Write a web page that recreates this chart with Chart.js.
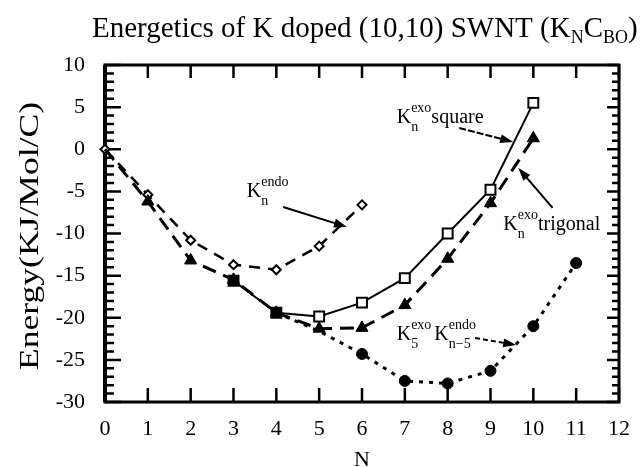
<!DOCTYPE html>
<html>
<head>
<title>Energetics of K doped (10,10) SWNT</title>
<script src="https://cdn.jsdelivr.net/npm/chart.js@4.4.0/dist/chart.umd.min.js"></script>
<style>
    body { margin: 0; background: #fff; }
    #wrap { width: 644px; height: 467px; }
</style>
</head>
<body>
<div id="wrap"><canvas id="energyChart" width="644" height="467"></canvas></div>
<script>
    // data (N = number of K atoms, energy in KJ/Mol/C)
    const nSquare = [3, 4, 5, 6, 7, 8, 9, 10];
    const eSquare = [-15.6, -19.4, -19.85, -18.2, -15.3, -10.0, -4.8, 5.5];

    const nTrigonal = [0, 1, 2, 3, 4, 5, 6, 7, 8, 9, 10];
    const eTrigonal = [0, -6.2, -13.2, -15.5, -19.4, -21.3, -21.2, -18.5, -13.0, -6.4, 1.3];

    const nEndo = [0, 1, 2, 3, 4, 5, 6];
    const eEndo = [0, -5.4, -10.8, -13.7, -14.3, -11.5, -6.6];

    const nMixed = [4, 5, 6, 7, 8, 9, 10, 11];
    const eMixed = [-19.4, -21.6, -24.3, -27.5, -27.8, -26.3, -21.0, -13.5];

    const xTickValues = [0, 1, 2, 3, 4, 5, 6, 7, 8, 9, 10, 11, 12];
    const yTickValues = [10, 5, 0, -5, -10, -15, -20, -25, -30];

    const SERIF = '"Liberation Serif", "DejaVu Serif", serif';

    function toPoints(xs, ys) {
        return xs.map((x, i) => ({ x: x, y: ys[i] }));
    }

    // K with a subscript and superscript stacked after it, returns the x where it ends
    function drawK(ctx, x, y, base, sub, sup, size) {
        ctx.font = size + 'px ' + SERIF;
        ctx.fillText(base, x, y);
        const w = ctx.measureText(base).width;
        const small = Math.round(size * 0.7);
        ctx.font = small + 'px ' + SERIF;
        const ws = sub ? ctx.measureText(sub).width : 0;
        const wp = sup ? ctx.measureText(sup).width : 0;
        if (sub) ctx.fillText(sub, x + w, y + size * 0.38);
        if (sup) ctx.fillText(sup, x + w, y - size * 0.55);
        return x + w + Math.max(ws, wp);
    }

    function arrow(ctx, x1, y1, x2, y2, dash) {
        const ang = Math.atan2(y2 - y1, x2 - x1);
        const len = 13, half = 4.5;
        ctx.save();
        ctx.lineWidth = 2;
        ctx.setLineDash(dash || []);
        ctx.beginPath();
        ctx.moveTo(x1, y1);
        ctx.lineTo(x2 - Math.cos(ang) * len * 0.8, y2 - Math.sin(ang) * len * 0.8);
        ctx.stroke();
        ctx.setLineDash([]);
        ctx.beginPath();
        ctx.moveTo(x2, y2);
        ctx.lineTo(x2 - Math.cos(ang) * len + Math.sin(ang) * half, y2 - Math.sin(ang) * len - Math.cos(ang) * half);
        ctx.lineTo(x2 - Math.cos(ang) * len - Math.sin(ang) * half, y2 - Math.sin(ang) * len + Math.cos(ang) * half);
        ctx.closePath();
        ctx.fill();
        ctx.restore();
    }

    const frameAndTicks = {
        id: 'frameAndTicks',
        beforeDatasetsDraw(chart) {
            const { ctx, chartArea: a, scales: { x, y } } = chart;
            ctx.save();
            ctx.strokeStyle = '#000';
            ctx.lineWidth = 2.5;
            ctx.beginPath();
            xTickValues.forEach(v => {
                const px = x.getPixelForValue(v);
                ctx.moveTo(px, a.bottom); ctx.lineTo(px, a.bottom - 14);
                ctx.moveTo(px, a.top); ctx.lineTo(px, a.top + 13);
            });
            for (let v = y.min; v <= y.max; v++) {
                const py = y.getPixelForValue(v);
                const major = v % 5 === 0;
                ctx.moveTo(a.left, py); ctx.lineTo(a.left + (major ? 16 : 9), py);
                ctx.moveTo(a.right, py); ctx.lineTo(a.right - (major ? 12 : 7), py);
            }
            ctx.stroke();
            ctx.lineWidth = 3;
            ctx.strokeRect(a.left, a.top, a.right - a.left, a.bottom - a.top);
            ctx.lineWidth = 4;
            ctx.beginPath();
            ctx.moveTo(a.left, a.top); ctx.lineTo(a.left, a.bottom);
            ctx.stroke();
            ctx.restore();
        }
    };

    const textLayer = {
        id: 'textLayer',
        afterDraw(chart) {
            const { ctx, chartArea: a, scales: { x, y } } = chart;
            ctx.save();
            ctx.fillStyle = '#000';
            ctx.strokeStyle = '#000';
            ctx.textBaseline = 'alphabetic';
            ctx.textAlign = 'left';

            // title with subscripts
            let tx = 92, ty = 37;
            ctx.font = '29px ' + SERIF;
            const head = 'Energetics of K doped (10,10) SWNT (K';
            ctx.fillText(head, tx, ty);
            tx += ctx.measureText(head).width;
            ctx.font = '18px ' + SERIF;
            ctx.fillText('N', tx, ty + 6);
            tx += ctx.measureText('N').width;
            ctx.font = '29px ' + SERIF;
            ctx.fillText('C', tx, ty);
            tx += ctx.measureText('C').width;
            ctx.font = '18px ' + SERIF;
            ctx.fillText('BO', tx, ty + 6);
            tx += ctx.measureText('BO').width;
            ctx.font = '29px ' + SERIF;
            ctx.fillText(')', tx, ty);

            // axis titles
            ctx.font = '22px ' + SERIF;
            ctx.textAlign = 'center';
            ctx.fillText('N', (a.left + a.right) / 2, 466);
            ctx.save();
            ctx.translate(31, 236);
            ctx.rotate(-Math.PI / 2);
            ctx.font = '27px ' + SERIF;
            ctx.textBaseline = 'middle';
            const yl = 'Energy(KJ/Mol/C)';
            const sc = 268 / ctx.measureText(yl).width;
            ctx.scale(sc, 1);
            ctx.fillText(yl, 0, 0);
            ctx.restore();

            ctx.textAlign = 'left';
            const px = v => x.getPixelForValue(v);
            const py = v => y.getPixelForValue(v);

            // K_n^endo
            drawK(ctx, px(3.31), py(-5.67), 'K', 'n', 'endo', 20);
            arrow(ctx, px(4.16), py(-6.85), px(5.65), py(-9.23));

            // K_n^exo square
            let e = drawK(ctx, px(6.81), py(3.1), 'K', 'n', 'exo', 20);
            ctx.font = '20px ' + SERIF;
            ctx.fillText('square', e, py(3.1));
            arrow(ctx, px(8.27), py(2.52), px(9.53), py(0.86), [7, 2]);

            // K_n^exo trigonal
            e = drawK(ctx, px(9.3), py(-9.58), 'K', 'n', 'exo', 20);
            ctx.font = '20px ' + SERIF;
            ctx.fillText('trigonal', e, py(-9.58));
            arrow(ctx, px(10.45), py(-6.97), px(9.65), py(-2.23));

            // K_5^exo K_{n-5}^endo
            e = drawK(ctx, px(6.81), py(-22.64), 'K', '5', 'exo', 20);
            e = drawK(ctx, e + 3, py(-22.64), 'K', 'n\u22125', 'endo', 20);
            arrow(ctx, px(8.64), py(-22.4), px(9.6), py(-23.24), [5, 3]);

            ctx.restore();
        }
    };

    const ctx = document.getElementById('energyChart').getContext('2d');
    const energyChart = new Chart(ctx, {
        type: 'line',
        data: {
            datasets: [
                {
                    label: 'Kn exo square',
                    data: toPoints(nSquare, eSquare),
                    borderColor: '#000',
                    borderWidth: 2,
                    pointStyle: 'rect',
                    pointRadius: 7,
                    pointBorderWidth: 2,
                    pointBorderColor: '#000',
                    pointBackgroundColor: nSquare.map(n => n <= 4 ? '#000' : '#fff'),
                    order: 1
                },
                {
                    label: 'Kn exo trigonal',
                    data: toPoints(nTrigonal, eTrigonal),
                    borderColor: '#000',
                    borderWidth: 3,
                    borderDash: [14, 8],
                    pointStyle: 'triangle',
                    pointRadius: nTrigonal.map(n => n === 0 ? 0 : 7),
                    pointBorderWidth: 1,
                    pointBorderColor: '#000',
                    pointBackgroundColor: '#000',
                    order: 2
                },
                {
                    label: 'Kn endo',
                    data: toPoints(nEndo, eEndo),
                    borderColor: '#000',
                    borderWidth: 2.5,
                    borderDash: [11, 8],
                    pointStyle: 'rectRot',
                    pointRadius: 4.5,
                    pointBorderWidth: 2,
                    pointBorderColor: '#000',
                    pointBackgroundColor: '#fff',
                    order: 3
                },
                {
                    label: 'K5 exo Kn-5 endo',
                    data: toPoints(nMixed, eMixed),
                    borderColor: '#000',
                    borderWidth: 3,
                    borderDash: [4, 6],
                    pointStyle: 'circle',
                    pointRadius: nMixed.map(n => n < 6 ? 0 : 5.5),
                    pointBorderWidth: 1,
                    pointBorderColor: '#000',
                    pointBackgroundColor: '#000',
                    order: 4
                }
            ]
        },
        options: {
            responsive: false,
            animation: false,
            layout: { padding: { top: 65, right: 14, left: 0, bottom: 0 } },
            plugins: {
                legend: { display: false },
                tooltip: { enabled: false }
            },
            elements: { line: { tension: 0, fill: false } },
            scales: {
                x: {
                    type: 'linear',
                    min: 0,
                    max: 12,
                    grid: { display: false, drawTicks: false },
                    border: { display: false },
                    afterBuildTicks: s => { s.ticks = xTickValues.map(v => ({ value: v })); },
                    afterFit: s => { s.height = 65; },
                    ticks: {
                        padding: 14,
                        color: '#000',
                        maxRotation: 0,
                        font: { family: SERIF, size: 22 }
                    }
                },
                y: {
                    type: 'linear',
                    min: -30,
                    max: 10,
                    grid: { display: false, drawTicks: false },
                    border: { display: false },
                    afterBuildTicks: s => { s.ticks = yTickValues.map(v => ({ value: v })); },
                    afterFit: s => { s.width = 105; },
                    ticks: {
                        padding: 20,
                        color: '#000',
                        font: { family: SERIF, size: 22 }
                    }
                }
            }
        },
        plugins: [frameAndTicks, textLayer]
    });
    energyChart.data.datasets.forEach(d => { d.clip = false; });
    energyChart.update();
</script>
</body>
</html>
